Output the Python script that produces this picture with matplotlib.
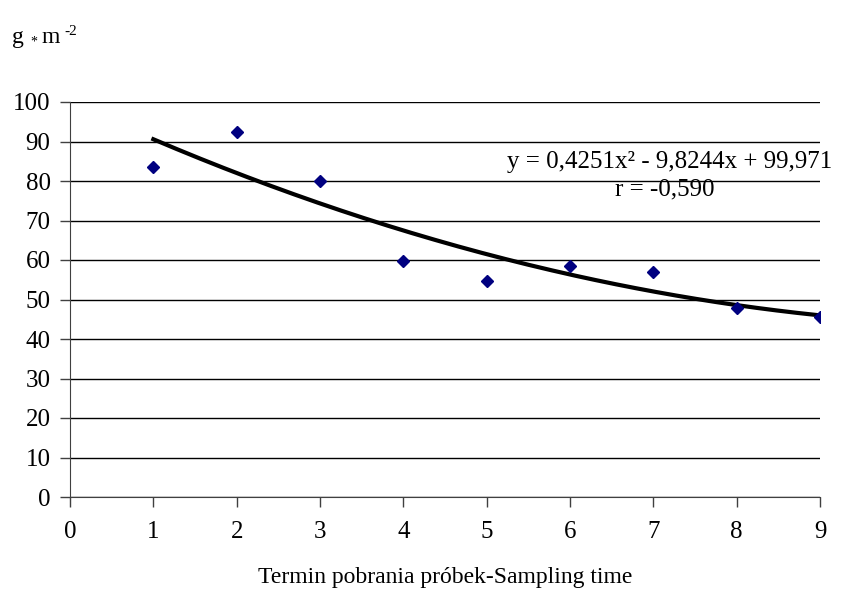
import numpy as np
import matplotlib
matplotlib.use("Agg")
import matplotlib.pyplot as plt

plt.rcParams["font.family"] = ["Liberation Serif", "DejaVu Serif"]

# dane
termin = [1, 2, 3, 4, 5, 6, 7, 8, 9]
masa = [83.5, 92.5, 80.0, 59.7, 54.7, 58.5, 57.0, 47.8, 45.5]
# wspolczynniki trendu (z opisu na wykresie)
wsp = [0.4251, -9.8244, 99.971]

W, H = 841, 592
fig = plt.figure(figsize=(W / 100, H / 100), dpi=100)
ax = fig.add_axes([70 / W, 95 / H, 750 / W, 395 / H])


def px(x, y):
    # piksele liczone od lewego gornego rogu
    return x / W, 1 - y / H


xs = np.linspace(termin[0], termin[-1], 200)
ax.plot(xs, np.polyval(wsp, xs), color="black", lw=3, zorder=3)
ax.plot(termin, masa, ls="none", marker="D", ms=6, color="#000080", zorder=4)

ax.set_xlim(0, 9)
ax.set_ylim(0, 100)
ax.set_xticks(range(0, 10))
ax.set_yticks(range(0, 101, 10))
ax.yaxis.grid(True, color="black", lw=1)
ax.set_axisbelow(True)
for s in ["top", "right"]:
    ax.spines[s].set_visible(False)
for s in ["left", "bottom"]:
    ax.spines[s].set_color("#404040")
ax.tick_params(direction="out", length=7, width=1, color="#404040",
               labelsize=18)
ax.tick_params(axis="y", pad=7)
ax.tick_params(axis="x", pad=10)

fig.text(*px(670, 162), "y = 0,4251x² - 9,8244x + 99,971",
         fontsize=18, ha="center", va="center")
fig.text(*px(665, 189), "r = -0,590", fontsize=18, ha="center", va="center")

# opis osi Y: g * m-2
fig.text(*px(12, 43), "g", fontsize=17, ha="left", va="baseline")
fig.text(*px(30, 46), "*", fontsize=10, ha="left", va="baseline")
fig.text(*px(42, 43), "m", fontsize=17, ha="left", va="baseline")
fig.text(*px(64, 35), "-2", fontsize=11, ha="left", va="baseline")

fig.text(*px(445, 578), "Termin pobrania próbek-Sampling time",
         fontsize=17, ha="center", va="center")

fig.savefig("out.png", dpi=100)
